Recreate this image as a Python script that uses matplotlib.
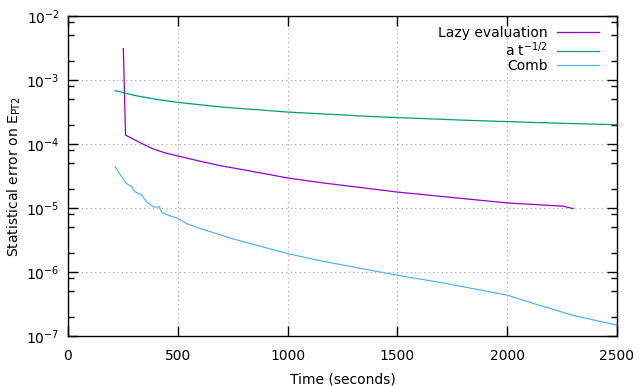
import matplotlib
matplotlib.use("Agg")
import matplotlib.pyplot as plt
from matplotlib.ticker import LogLocator, NullFormatter, MultipleLocator

# Lazy evaluation curve (time in s, statistical error)
lazy_t = [252, 262, 290, 328, 387, 440, 500, 600, 692, 800, 1000, 1148, 1497,
          2000, 2254, 2300]
lazy_err = [3.1e-3, 1.38e-4, 1.23e-4, 1.05e-4, 8.4e-5, 7.3e-5, 6.5e-5, 5.4e-5,
            4.6e-5, 3.95e-5, 2.95e-5, 2.5e-5, 1.78e-5, 1.2e-5, 1.07e-5, 9.8e-6]

# a t^-1/2 reference curve
ref_t = [214, 300, 400, 500, 700, 1000, 1400, 1800, 2200, 2500]
ref_err = [6.84e-4, 5.77e-4, 5.0e-4, 4.47e-4, 3.78e-4, 3.16e-4, 2.67e-4,
           2.36e-4, 2.13e-4, 2.0e-4]

# Comb curve
comb_t = [215, 264, 290, 305, 335, 358, 389, 416, 427, 457, 500, 540, 601,
          750, 1000, 1148, 1500, 1694, 2000, 2149, 2300, 2500]
comb_err = [4.4e-5, 2.45e-5, 2.15e-5, 1.8e-5, 1.6e-5, 1.25e-5, 1.04e-5, 1.04e-5,
            8.5e-6, 7.7e-6, 6.9e-6, 5.7e-6, 4.8e-6, 3.3e-6, 1.94e-6, 1.5e-6,
            8.9e-7, 6.9e-7, 4.35e-7, 3.0e-7, 2.1e-7, 1.48e-7]


def main():
    plt.rcParams["font.family"] = ["DejaVu Sans"]
    plt.rcParams["font.size"] = 10
    plt.rcParams["mathtext.default"] = "regular"

    fig = plt.figure(figsize=(6.4, 3.86), dpi=100)
    ax = fig.add_axes([0.10625, 0.1295, 0.8578, 0.829])

    ax.plot(lazy_t, lazy_err, color="#9400d3", lw=0.9, label="Lazy evaluation")
    ax.plot(ref_t, ref_err, color="#009e73", lw=0.9, label="a t$^{-1/2}$")
    ax.plot(comb_t, comb_err, color="#56b4e9", lw=0.9, label="Comb")

    ax.set_yscale("log")
    ax.set_xlim(0, 2500)
    ax.set_ylim(1e-7, 1e-2)
    ax.xaxis.set_major_locator(MultipleLocator(500))
    ax.yaxis.set_major_locator(LogLocator(base=10, numticks=10))
    ax.yaxis.set_minor_locator(LogLocator(base=10, subs=(2, 5, 8), numticks=20))
    ax.yaxis.set_minor_formatter(NullFormatter())

    ax.tick_params(which="both", direction="in", top=True, right=True, width=1)
    ax.tick_params(which="major", length=7, pad=6)
    ax.tick_params(which="minor", length=4)
    ax.tick_params(axis="x", pad=9)

    ax.grid(True, which="major", color="#a0a0a0", linestyle=(0, (1, 3)), lw=0.8)
    for s in ax.spines.values():
        s.set_linewidth(1.0)

    ax.set_xlabel("Time (seconds)", labelpad=7)
    ax.set_ylabel("Statistical error on E$_{PT2}$", labelpad=2)

    ax.legend(loc="upper right", frameon=False, markerfirst=False,
              handlelength=3.0, handletextpad=0.7, labelspacing=0.02,
              borderaxespad=0.3, bbox_to_anchor=(0.985, 1.0))

    fig.savefig("out.png", dpi=100)


main()
